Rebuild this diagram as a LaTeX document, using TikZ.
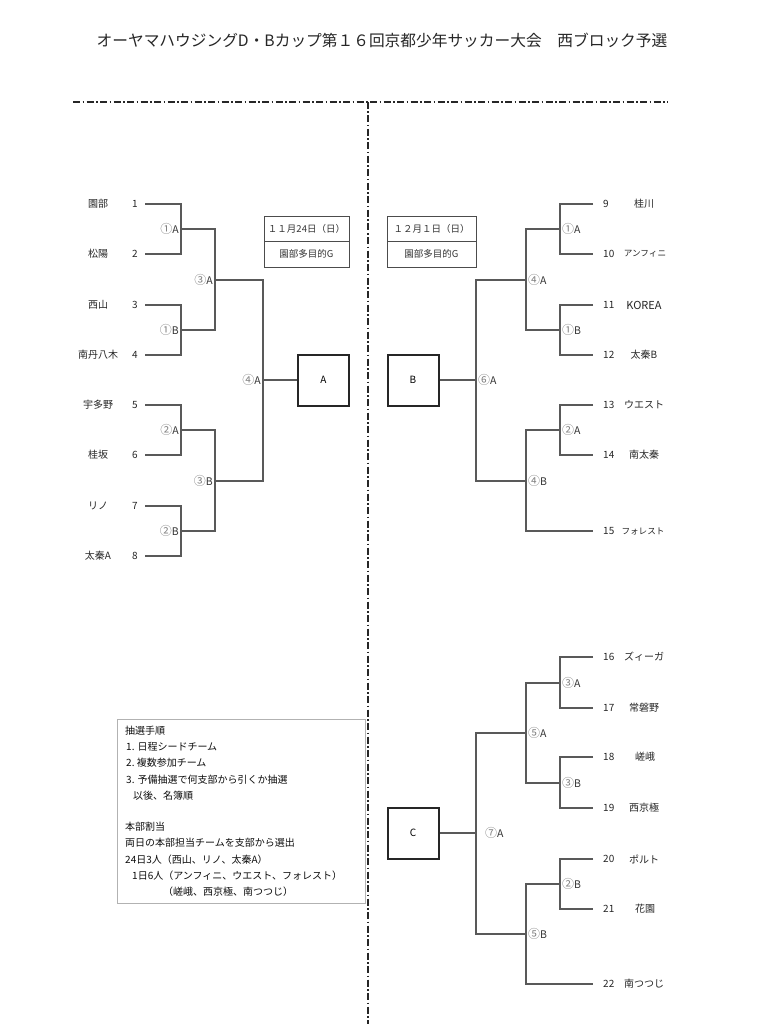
\documentclass[tikz,border=0pt]{standalone}
\usepackage{fontspec}
\setmainfont{Noto Sans CJK JP}
\begin{document}
\begin{tikzpicture}[x=1pt,y=-1pt,
  team/.style={font=\fontsize{10}{12}\selectfont, text=black!85, inner sep=0pt},
  small/.style={font=\fontsize{8.6}{10}\selectfont, text=black!85, inner sep=0pt},
  lbl/.style={font=\fontsize{10.5}{12}\selectfont, text=black!80, inner sep=0pt},
  br/.style={draw=black!65, line width=1.1pt},
  winbox/.style={draw=black!85, line width=2pt, minimum width=51pt, minimum height=51pt, inner sep=0pt, font=\fontsize{10}{12}\selectfont},
  datebox/.style={draw=black!70, line width=0.9pt},
  datetxt/.style={font=\fontsize{9.5}{11}\selectfont, text=black!80, inner sep=0pt},
  info/.style={font=\fontsize{10}{12}\selectfont, text=black!95, inner sep=0pt, anchor=west},
  sep/.style={draw=black!85, line width=1.8pt, dash pattern=on 7pt off 2.5pt on 1.5pt off 2.5pt}
]
\newcommand{\cn}[1]{{\fontsize{12}{12}\selectfont\color{black!50}#1}}
\useasboundingbox (0,0) rectangle (776,1024);
\fill[white] (0,0) rectangle (776,1024);

% title
\node[inner sep=0pt, text=black!85] (title) at (382,40) {\fontsize{15.7}{18}\selectfont オーヤマハウジングD・Bカップ第１６回京都少年サッカー大会　西ブロック予選};

% separators
\coordinate (hl) at (73,102);
\coordinate (hr) at (668,102);
\coordinate (vt) at (368,102);
\coordinate (vb) at (368,1024);
\draw[sep] (hl) -- (hr);
\draw[sep] (vt) -- (vb);

% ---------- left bracket ----------
\foreach \i/\y/\t in {1/204/園部, 2/254/松陽, 3/305/西山, 4/355/南丹八木, 5/405/宇多野, 6/455/桂坂, 7/506/リノ, 8/556/太秦A} {
  \node[team] (n\i) at (98,\y) {\t};
  \node[team] (k\i) at (135,\y) {\i};
  \coordinate (e\i) at (145,\y);
}
\coordinate (a1) at (181,229);
\coordinate (a2) at (181,330);
\coordinate (a3) at (181,430);
\coordinate (a4) at (181,531);
\coordinate (b1) at (215,280);
\coordinate (b2) at (215,481);
\coordinate (c1) at (263,380);
\draw[br] (e1) -| (a1) |- (e2);
\draw[br] (e3) -| (a2) |- (e4);
\draw[br] (e5) -| (a3) |- (e6);
\draw[br] (e7) -| (a4) |- (e8);
\draw[br] (a1) -| (b1) |- (a2);
\draw[br] (a3) -| (b2) |- (a4);
\draw[br] (b1) -| (c1) |- (b2);
\node[winbox] (boxA) at (323.5,380) {A};
\draw[br] (c1) -- (boxA.west);
\node[lbl, anchor=east] (la1) at (179,229) {\cn{①}A};
\node[lbl, anchor=east] (la2) at (179,330) {\cn{①}B};
\node[lbl, anchor=east] (la3) at (179,430) {\cn{②}A};
\node[lbl, anchor=east] (la4) at (179,531) {\cn{②}B};
\node[lbl, anchor=east] (lb1) at (213,280) {\cn{③}A};
\node[lbl, anchor=east] (lb2) at (213,481) {\cn{③}B};
\node[lbl, anchor=east] (lc1) at (261,380) {\cn{④}A};

% date boxes
\draw[datebox] (264,216) rectangle (349,267);
\coordinate (dl1) at (264,241);
\coordinate (dl2) at (349,241);
\draw[datebox] (dl1) -- (dl2);
\node[datetxt] (d1) at (306.5,229) {１１月24日（日）};
\node[datetxt] (d2) at (306.5,254) {園部多目的G};
\draw[datebox] (387,216) rectangle (476,267);
\coordinate (dr1) at (387,241);
\coordinate (dr2) at (476,241);
\draw[datebox] (dr1) -- (dr2);
\node[datetxt] (d3) at (431.5,229) {１２月１日（日）};
\node[datetxt] (d4) at (431.5,254) {園部多目的G};

% ---------- right top bracket ----------
\foreach \i/\y in {9/204, 10/254, 11/305, 12/355, 13/405, 14/455, 15/531, 16/657, 17/708, 18/757, 19/808, 20/859, 21/909, 22/984} {
  \node[team, anchor=west] (k\i) at (603,\y) {\i};
  \coordinate (f\i) at (593,\y);
}
\node[team] (n9) at (644,204) {桂川};
\node[small] (n10) at (645,254) {アンフィニ};
\node[font=\fontsize{11}{12}\selectfont, text=black!85, inner sep=0pt] (n11) at (644,305) {KOREA};
\node[team] (n12) at (644,355) {太秦B};
\node[team] (n13) at (644,405) {ウエスト};
\node[team] (n14) at (644,455) {南太秦};
\node[small] (n15) at (643,531) {フォレスト};
\node[team] (n16) at (644,657) {ズィーガ};
\node[team] (n17) at (644,708) {常磐野};
\node[team] (n18) at (645,757) {嵯峨};
\node[team] (n19) at (644,808) {西京極};
\node[team] (n20) at (644,859) {ポルト};
\node[team] (n21) at (645,909) {花園};
\node[team] (n22) at (644,984) {南つつじ};

\coordinate (p1) at (560,229);
\coordinate (p2) at (560,330);
\coordinate (p3) at (560,430);
\coordinate (q1) at (526,280);
\coordinate (q2) at (526,481);
\coordinate (r1) at (476,380);
\draw[br] (f9) -| (p1) |- (f10);
\draw[br] (f11) -| (p2) |- (f12);
\draw[br] (f13) -| (p3) |- (f14);
\draw[br] (p1) -| (q1) |- (p2);
\draw[br] (p3) -| (q2) |- (f15);
\draw[br] (q1) -| (r1) |- (q2);
\node[winbox] (boxB) at (413,380) {B};
\draw[br] (r1) -- (boxB.east);
\node[lbl, anchor=west] (lp1) at (562,229) {\cn{①}A};
\node[lbl, anchor=west] (lp2) at (562,330) {\cn{①}B};
\node[lbl, anchor=west] (lp3) at (562,430) {\cn{②}A};
\node[lbl, anchor=west] (lq1) at (528,280) {\cn{④}A};
\node[lbl, anchor=west] (lq2) at (528,481) {\cn{④}B};
\node[lbl, anchor=west] (lr1) at (478,380) {\cn{⑥}A};

% ---------- right bottom bracket ----------
\coordinate (s1) at (560,683);
\coordinate (s2) at (560,783);
\coordinate (s3) at (560,884);
\coordinate (t1) at (526,733);
\coordinate (t2) at (526,934);
\coordinate (u1) at (476,833);
\draw[br] (f16) -| (s1) |- (f17);
\draw[br] (f18) -| (s2) |- (f19);
\draw[br] (f20) -| (s3) |- (f21);
\draw[br] (s1) -| (t1) |- (s2);
\draw[br] (s3) -| (t2) |- (f22);
\draw[br] (t1) -| (u1) |- (t2);
\node[winbox] (boxC) at (413,833) {C};
\draw[br] (u1) -- (boxC.east);
\node[lbl, anchor=west] (ls1) at (562,683) {\cn{③}A};
\node[lbl, anchor=west] (ls2) at (562,783) {\cn{③}B};
\node[lbl, anchor=west] (ls3) at (562,884) {\cn{②}B};
\node[lbl, anchor=west] (lt1) at (528,733) {\cn{⑤}A};
\node[lbl, anchor=west] (lt2) at (528,934) {\cn{⑤}B};
\node[lbl, anchor=west] (lu1) at (485,833) {\cn{⑦}A};

% ---------- info box ----------
\draw[draw=black!30, line width=0.8pt] (117,719) rectangle (365,903);
\node[info] (i1) at (125,731) {抽選手順};
\node[info] (i2) at (126,747) {1. 日程シードチーム};
\node[info] (i3) at (126,763) {2.\ 複数参加チーム};
\node[info] (i4) at (126,780) {3. 予備抽選で何支部から引くか抽選};
\node[info] (i5) at (133,796) {以後、名簿順};
\node[info] (i6) at (125,827) {本部割当};
\node[info] (i7) at (125,843) {両日の本部担当チームを支部から選出};
\node[info] (i8) at (125,860) {24日3人（西山、リノ、太秦A）};
\node[info] (i9) at (132,876) {1日6人（アンフィニ、ウエスト、フォレスト）};
\node[info] (i10) at (163,892) {（嵯峨、西京極、南つつじ）};
\end{tikzpicture}
\end{document}
